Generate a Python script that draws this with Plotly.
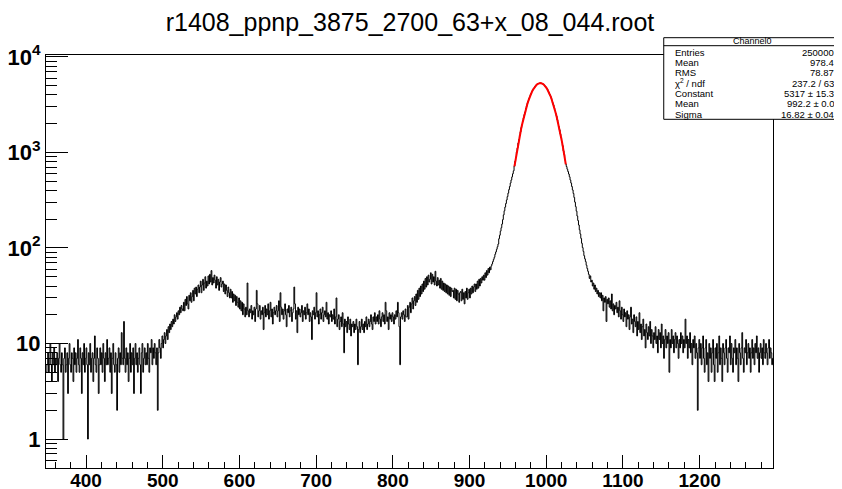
import plotly.graph_objects as go

title_text = "r1408_ppnp_3875_2700_63+x_08_044.root"
first_bin = 348
bin_width = 1

# histogram counts (bin width 1), by segment
seg_348 = [
    5, 6, 8, 5, 7, 10, 6, 4, 8, 6,
    9, 5, 7, 6, 8, 4, 7, 10, 6, 5,
    8, 6, 1, 7, 9, 5, 6, 8, 3, 7,
    10, 6, 5, 8, 7, 4, 9, 6, 8, 5,
    7, 11, 6, 5, 9, 7, 3, 8, 6, 10,
    5, 7, 9, 6, 1, 8, 6, 10, 5, 7,
    8, 4, 7, 12, 6, 5, 9, 7, 3, 6,
    9, 6, 8, 5, 10, 7, 4, 8, 6, 11,
    6, 7, 9, 5, 8, 3, 7, 10, 6, 5,
    8, 6, 2, 7, 9, 5, 8, 6, 13, 7,
    6, 17, 7, 5, 9, 6, 8, 4, 7, 10,
    5, 8, 6, 9, 3, 7, 10, 6, 8, 5,
    7, 9, 6, 3, 8, 10, 5, 7, 9, 6,
    8, 6, 10, 7, 5, 9, 8, 11, 6, 9,
    7, 10, 8, 6, 9, 2, 8, 11, 9, 7,
]
seg_498 = [
    10, 12, 9, 11, 13, 10, 12, 14, 11, 15,
    13, 16, 14, 17, 15, 18, 16, 20, 17, 19,
    21, 18, 22, 20, 24, 21, 25, 23, 22, 27,
    22, 29, 25, 31, 26, 23, 32, 28, 34, 27,
    31, 36, 28, 38, 33, 39, 31, 37, 41, 34,
    39, 45, 34, 41, 47, 36, 43, 50, 38, 45,
    40, 51, 42, 53, 44, 58, 41, 49, 43, 52,
    46, 38, 50, 41, 47, 36, 44, 49, 39, 42,
    45, 35, 42, 33, 41, 36, 31, 39, 34, 30,
    37, 30, 35, 27, 33, 28, 32, 25, 31, 27,
    24, 30, 23, 28, 22, 27, 20, 26, 23, 19,
    24, 20, 43, 22, 19, 23, 21, 25, 18, 22,
]
seg_618 = [
    20, 24, 17, 23, 36, 26, 19, 22, 25, 18,
    22, 20, 24, 14, 21, 25, 19, 23, 20, 26,
    18, 22, 27, 19, 23, 16, 21, 24, 20, 22,
    25, 19, 22, 28, 17, 34, 24, 20, 23, 18,
    22, 26, 20, 15, 23, 21, 25, 19, 22, 24,
    17, 21, 23, 39, 26, 18, 22, 13, 24, 20,
    23, 19, 21, 25, 17, 22, 20, 24, 18, 21,
    26, 20, 23, 17, 21, 19, 11, 22, 20, 24,
    18, 21, 34, 19, 22, 16, 20, 23, 18, 21,
    24, 17, 20, 22, 19, 27, 18, 21, 16, 20,
    19, 22, 17, 20, 18, 23, 16, 19, 30, 15,
    18, 20, 14, 17, 19, 15, 21, 16, 8, 18,
    15, 17, 13, 19, 16, 14, 18, 12, 16, 15,
    17, 13, 16, 14, 18, 15, 6, 14, 17, 13,
    15, 18, 14, 16, 13, 17, 15, 19, 14, 16,
    18, 15, 17, 20, 16, 14, 19, 17, 21, 16,
    19, 17, 20, 16, 22, 18, 15, 19, 21, 17,
    20, 16, 27, 22, 17, 19, 14, 21, 18, 20,
    17, 21, 19, 16, 20, 18, 22, 19, 27, 21,
    15, 6, 19, 21, 18, 22, 20, 17, 23, 19,
]
seg_818 = [
    19, 25, 18, 24, 27, 21, 26, 30, 23, 28,
    31, 25, 33, 27, 36, 29, 38, 31, 40, 33,
    42, 35, 45, 37, 48, 39, 50, 41, 52, 44,
    47, 55, 42, 53, 44, 50, 41, 57, 45, 40,
    49, 41, 46, 38, 48, 37, 45, 36, 43, 35,
    42, 34, 41, 33, 40, 32, 39, 31, 38, 35,
    36, 30, 38, 29, 37, 28, 36, 33, 27, 34,
    35, 28, 37, 29, 34, 26, 35, 30, 38, 29,
    34, 37, 30, 38, 33, 40, 34, 39, 42, 35,
    42, 37, 45, 38, 47, 40, 48, 43, 50, 46,
    52, 46, 55, 49, 58, 52, 61, 55, 63, 59,
    65, 68, 72, 76, 80, 86, 91, 97, 103, 110,
    125, 136, 150, 163, 178, 198, 222, 245, 268, 292,
    318, 345, 375, 408, 440, 478, 515, 555, 598, 642,
]
seg_958 = [
    722, 808, 893, 1012, 1110, 1251, 1362, 1517, 1644, 1820,
    1952, 2141, 2297, 2495, 2655, 2878, 3041, 3262, 3430, 3652,
    3810, 4019, 4165, 4361, 4490, 4668, 4775, 4931, 5005, 5129,
    5178, 5263, 5278, 5330, 5305, 5318, 5255, 5231, 5135, 5078,
    4944, 4856, 4694, 4580, 4398, 4263, 4061, 3912, 3697, 3532,
    3312, 3145, 2925, 2758, 2543, 2392, 2188, 2045, 1862, 1728,
    1554, 1437, 1280, 1177, 1040, 951, 832, 758,
]
seg_1026 = [
    712, 668, 631, 594, 556, 514, 478, 440, 405, 372,
    338, 302, 271, 243, 216, 194, 174, 155, 140, 126,
    112, 101, 92, 83, 77, 72, 66, 61, 57, 53,
    48, 51, 44, 46, 40, 43, 37, 41, 35, 38,
    33, 36, 31, 34, 30, 34, 28, 32, 22, 30,
    27, 31, 17, 29, 26, 30, 24, 28, 23, 33,
    22, 26, 20, 25, 23, 27, 21, 24, 19, 28,
    22, 18, 24, 20, 17, 23, 19, 21, 15, 22,
    18, 20, 14, 19, 24, 16, 18, 13, 20, 17,
    15, 19, 12, 17, 14, 21, 13, 16, 11, 15,
    18, 12, 14, 9, 16, 13, 11, 15, 12, 17,
    10, 14, 12, 9, 13, 11, 15, 10, 12, 8,
    14, 11, 13, 9, 16, 10, 12, 7, 11, 14,
    9, 12, 10, 13, 5, 11, 9, 14, 10, 12,
    8, 11, 13, 9, 12, 10, 7, 11, 9, 13,
    10, 12, 8, 11, 9, 18, 10, 12, 7, 11,
    9, 13, 8, 10, 6, 11, 9, 12, 7, 10,
    8, 2, 9, 11, 7, 10, 6, 9, 12, 7,
    5, 9, 11, 6, 8, 4, 10, 7, 9, 5,
    8, 11, 6, 4, 9, 7, 10, 5, 8, 12,
    6, 9, 7, 4, 10, 8, 6, 9, 11, 7,
    5, 9, 8, 12, 6, 10, 7, 5, 9, 8,
    11, 6, 9, 7, 4, 10, 8, 6, 9, 13,
    7, 5, 9, 8, 11, 6, 8, 10, 7, 9,
    5, 8, 11, 7, 9, 6, 10, 8, 12, 7,
    9, 5, 8, 10, 7, 9, 6, 11, 8, 7,
    10, 8, 6, 9, 11, 7, 9, 8, 6, 7,
]

segments = [(348, seg_348), (498, seg_498), (618, seg_618),
            (818, seg_818), (958, seg_958), (1026, seg_1026)]
counts = []
for start, seg in segments:
    if first_bin + len(counts) * bin_width != start:
        raise ValueError(f"segment {start} misaligned: at {first_bin + len(counts)}")
    counts.extend(seg)

# gaussian fit curve, values read at the bin centres 958.5 ... 1025.5
fit_first_center = 958.5
fit_y = [
    715, 803, 900, 1005, 1119, 1240, 1370, 1508, 1655, 1809,
    1965, 2132, 2306, 2483, 2667, 2863, 3053, 3250, 3441, 3637,
    3822, 4004, 4178, 4346, 4503, 4651, 4788, 4912, 5020, 5113,
    5190, 5249, 5290, 5312, 5316, 5301, 5267, 5216, 5146, 5060,
    4957, 4839, 4707, 4564, 4412, 4246, 4075, 3896, 3710, 3517,
    3326, 3129, 2938, 2742, 2556, 2377, 2201, 2030, 1873, 1715,
    1566, 1425, 1291, 1166, 1050, 941, 841, 749,
]

stats_title = "Channel0"
stat_labels = ["Entries", "Mean", "RMS", "\u03c7<sup>2</sup> / ndf", "Constant", "Mean", "Sigma"]
stat_values = ["250000", "978.4", "78.87", "237.2 / 63", "5317 \u00b1 15.3", "992.2 \u00b1 0.0", "16.82 \u00b1 0.04"]

x_tick_vals = [400, 500, 600, 700, 800, 900, 1000, 1100, 1200]
y_tick_vals = [1, 10, 100, 1000, 10000]
y_tick_text = ["1", "10", "10<sup>2</sup>", "10<sup>3</sup>", "10<sup>4</sup>"]

# ---- layout geometry (screen pixels; the page body adds an 8px offset) ----
W, H = 842, 489
OFF = 8
FRAME_L, FRAME_R, FRAME_T, FRAME_B = 46, 773.3, 55, 468
L = FRAME_L - OFF
T = FRAME_T - OFF
R = W - (FRAME_R - OFF)
B = H - (FRAME_B - OFF)
PW, PH = FRAME_R - FRAME_L, FRAME_B - FRAME_T

def px(xpix):
    return (xpix - FRAME_L) / PW

def py(ypix):
    return (FRAME_B - ypix) / PH

edges = [first_bin + i * bin_width for i in range(len(counts) + 1)]
step_y = counts + [counts[-1]]

fit_x = [fit_first_center + i * bin_width for i in range(len(fit_y))]

fig = go.Figure()
fig.add_trace(go.Scatter(x=edges, y=step_y, mode="lines", line=dict(shape="hv", color="black", width=1),
                         hoverinfo="skip", showlegend=False))
fig.add_trace(go.Scatter(x=fit_x, y=fit_y, mode="lines", line=dict(color="#ff0000", width=2),
                         hoverinfo="skip", showlegend=False))

font_fam = "Liberation Sans, Arial, Helvetica, sans-serif"

x_minor = [v for v in range(360, 1296, 20) if v % 100 != 0]
y_minor = []
for dec in [0.1, 1, 10, 100, 1000]:
    for k in range(2, 10):
        v = k * dec
        if 0.5 <= v <= 10000:
            y_minor.append(v)

fig.update_xaxes(range=[347.8, 1295.6], showgrid=False, zeroline=False, automargin=False,
                 showline=True, linecolor="black", linewidth=1, mirror=True,
                 ticks="inside", ticklen=13, tickwidth=1, tickcolor="black",
                 tickmode="array", tickvals=x_tick_vals, ticklabelstandoff=-5,
                 tickfont=dict(family=font_fam, size=19, color="black", weight="bold"),
                 minor=dict(ticks="inside", ticklen=6, tickwidth=1, tickcolor="black",
                            tickmode="array", tickvals=x_minor, showgrid=False))
fig.update_yaxes(type="log", range=[-0.303, 4.02], showgrid=False, zeroline=False, automargin=False,
                 showline=True, linecolor="black", linewidth=1, mirror=True,
                 ticks="inside", ticklen=22, tickwidth=1, tickcolor="black",
                 tickmode="array", tickvals=y_tick_vals, ticktext=y_tick_text,
                 tickfont=dict(family=font_fam, size=22, color="black", weight="bold"),
                 minor=dict(ticks="inside", ticklen=11, tickwidth=1, tickcolor="black",
                            tickmode="array", tickvals=y_minor, showgrid=False))

# stats box
box_l, box_r, box_t, box_b = 664, 841, 37.7, 119.3
fig.add_shape(type="rect", xref="paper", yref="paper",
              x0=px(box_l), x1=px(box_r), y0=py(box_b), y1=py(box_t),
              fillcolor="white", line=dict(color="black", width=1), layer="above")
fig.add_shape(type="line", xref="paper", yref="paper",
              x0=px(box_l), x1=px(box_r), y0=py(45.7), y1=py(45.7),
              line=dict(color="black", width=1), layer="above")
fig.add_annotation(xref="paper", yref="paper", x=px((box_l + box_r) / 2), y=py(40.9),
                   text=stats_title, showarrow=False, xanchor="center", yanchor="middle",
                   font=dict(family=font_fam, size=9, color="black"))
row_y0, row_dy = 52.3, 10.33
for i, (lab, val) in enumerate(zip(stat_labels, stat_values)):
    yy = py(row_y0 + i * row_dy)
    fig.add_annotation(xref="paper", yref="paper", x=px(673), y=yy, text=lab, showarrow=False,
                       xanchor="left", yanchor="middle", font=dict(family=font_fam, size=9.5, color="black"))
    fig.add_annotation(xref="paper", yref="paper", x=px(836.5), y=yy, text=val, showarrow=False,
                       xanchor="right", yanchor="middle", font=dict(family=font_fam, size=9.5, color="black"))

fig.update_layout(
    width=W, height=H,
    margin=dict(l=L, r=R, t=T, b=B, pad=0, autoexpand=False),
    paper_bgcolor="white", plot_bgcolor="white",
    title=dict(text=title_text, x=(410 - OFF) / W, xanchor="center", xref="container",
               y=1 - (22 - OFF) / H, yanchor="middle", yref="container",
               font=dict(family=font_fam, size=25, color="black")),
    showlegend=False,
)

fig.write_html("out.html", config={"displayModeBar": False})
